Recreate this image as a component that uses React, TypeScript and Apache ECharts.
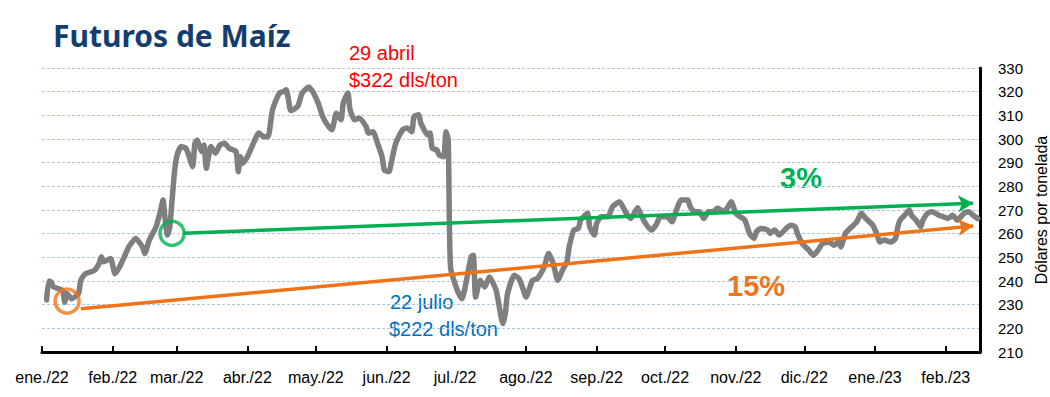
import React, { useEffect, useRef } from 'react';
import * as echarts from 'echarts';

const dates = [
  '2022-01-03','2022-01-04','2022-01-05','2022-01-06','2022-01-10','2022-01-11','2022-01-12','2022-01-14','2022-01-17','2022-01-18',
  '2022-01-20','2022-01-24','2022-01-26','2022-01-27','2022-01-28','2022-01-31','2022-02-02','2022-02-04','2022-02-07','2022-02-08',
  '2022-02-11','2022-02-14','2022-02-15','2022-02-17','2022-02-20','2022-02-22','2022-02-23','2022-02-24','2022-02-25','2022-02-26',
  '2022-02-27','2022-02-28','2022-03-01','2022-03-03','2022-03-05','2022-03-06','2022-03-08','2022-03-09','2022-03-10','2022-03-11',
  '2022-03-12','2022-03-13','2022-03-14','2022-03-16','2022-03-18','2022-03-20','2022-03-22','2022-03-24','2022-03-27','2022-03-28',
  '2022-03-29','2022-03-30','2022-04-01','2022-04-03','2022-04-06','2022-04-08','2022-04-10','2022-04-12','2022-04-15','2022-04-17',
  '2022-04-18','2022-04-19','2022-04-20','2022-04-23','2022-04-25','2022-04-28','2022-04-30','2022-05-02','2022-05-04','2022-05-06',
  '2022-05-08','2022-05-10','2022-05-12','2022-05-13','2022-05-15','2022-05-16','2022-05-18','2022-05-20','2022-05-23','2022-05-24',
  '2022-05-26','2022-05-28','2022-05-30','2022-05-31','2022-06-02','2022-06-03','2022-06-05','2022-06-08','2022-06-10','2022-06-12',
  '2022-06-13','2022-06-15','2022-06-16','2022-06-19','2022-06-20','2022-06-21','2022-06-23','2022-06-24','2022-06-26','2022-06-27',
  '2022-06-28','2022-06-29','2022-07-02','2022-07-04','2022-07-06','2022-07-08','2022-07-09','2022-07-10','2022-07-12','2022-07-14',
  '2022-07-16','2022-07-19','2022-07-22','2022-07-23','2022-07-24','2022-07-27','2022-07-29','2022-07-31','2022-08-01','2022-08-04',
  '2022-08-06','2022-08-09','2022-08-11','2022-08-13','2022-08-15','2022-08-17','2022-08-19','2022-08-20','2022-08-22','2022-08-24',
  '2022-08-25','2022-08-28','2022-08-29','2022-08-31','2022-09-01','2022-09-03','2022-09-06','2022-09-08','2022-09-11','2022-09-14',
  '2022-09-16','2022-09-19','2022-09-20','2022-09-22','2022-09-25','2022-09-27','2022-09-29','2022-10-02','2022-10-04','2022-10-06',
  '2022-10-08','2022-10-11','2022-10-12','2022-10-14','2022-10-16','2022-10-18','2022-10-20','2022-10-22','2022-10-24','2022-10-27',
  '2022-10-29','2022-10-30','2022-11-01','2022-11-03','2022-11-05','2022-11-07','2022-11-09','2022-11-10','2022-11-12','2022-11-15',
  '2022-11-16','2022-11-18','2022-11-20','2022-11-23','2022-11-25','2022-11-27','2022-11-28','2022-11-30','2022-12-03','2022-12-05',
  '2022-12-07','2022-12-09','2022-12-12','2022-12-14','2022-12-16','2022-12-17','2022-12-19','2022-12-21','2022-12-24','2022-12-26',
  '2022-12-28','2022-12-31','2023-01-02','2023-01-03','2023-01-05','2023-01-08','2023-01-10','2023-01-11','2023-01-12','2023-01-14',
  '2023-01-16','2023-01-17','2023-01-19','2023-01-21','2023-01-22','2023-01-24','2023-01-26','2023-01-29','2023-01-31','2023-02-02',
  '2023-02-04','2023-02-06','2023-02-09','2023-02-11','2023-02-13','2023-02-15',
];

const prices = [
  232, 240, 239.6, 237.5, 236, 231, 234.7, 232.5, 234.7, 240.3,
  243.1, 244.5, 247.4, 250.2, 248.1, 249.5, 243.1, 246, 252.3, 254.4,
  258, 254.4, 251.6, 257.3, 262.9, 270, 274.2, 265.7, 259.4, 262.9,
  274.2, 285.5, 292.5, 296.8, 296.1, 294, 288.3, 298.2, 299.6, 296.8,
  294.7, 297.5, 287.6, 296.8, 294, 297.5, 298.2, 296.1, 294.7, 286.2,
  292.5, 289.8, 292.5, 296.8, 302.5, 301, 301, 312.3, 319.4, 320.1,
  320.8, 316.6, 312, 313.7, 319.4, 322, 319.4, 315.2, 309.5, 306,
  303.9, 310.9, 308.1, 315.2, 319.4, 312.3, 308.1, 308.8, 305.3, 302.5,
  303.1, 298.2, 292.5, 286.9, 286.2, 289.8, 298.2, 303.9, 304.6, 303.1,
  309.5, 310.2, 306.7, 301.7, 302.5, 296.1, 295.4, 293.3, 292.5, 303.1,
  299.6, 246, 236, 232.5, 240.3, 250.2, 250.9, 233.2, 240.3, 237.5,
  241.7, 236, 222, 226.2, 234.7, 242.4, 241, 236, 233.2, 240.3,
  241, 245.9, 251.6, 247.4, 240.3, 244.5, 248.1, 254.4, 261.5, 262.2,
  265.7, 268.6, 262.9, 259.4, 264.3, 267.1, 267.1, 271.4, 273.5, 268.6,
  266.4, 271, 269, 265, 261.5, 263.6, 267.1, 267.1, 265, 270,
  274.2, 274.2, 271.4, 269.3, 269.3, 266.4, 269.3, 269.3, 270.7, 269.3,
  272.1, 273.5, 268.6, 267.1, 265.7, 260.1, 258, 260.8, 262.2, 261.5,
  260.1, 261.5, 259.4, 262.2, 263.6, 262.9, 260.1, 256, 253, 250.9,
  253, 255.8, 256.5, 255.1, 256.5, 254.4, 260.1, 262.2, 265, 268.6,
  266.4, 263.6, 259.4, 256.5, 257.3, 256.5, 258, 262.9, 265.7, 267.8,
  270, 267.8, 265.7, 262.9, 265.7, 268.6, 269.3, 267.8, 267.1, 266.4,
  267.8, 265.7, 268.6, 269.3, 267.8, 266.4,
];

const monthLabels = ['ene.', 'feb.', 'mar.', 'abr.', 'may.', 'jun.', 'jul.', 'ago.', 'sep.', 'oct.', 'nov.', 'dic.'];
const axisStart = '2022-01-01';
const axisEnd = '2023-02-16';
const yMin = 210;
const yMax = 330;
const yStep = 10;

const greenTrendDates = ['2022-03-04', '2023-02-13'];
const greenTrendValues = [260.2, 272.8];
const orangeTrendDates = ['2022-01-18', '2023-02-13'];
const orangeTrendValues = [228.3, 263.2];
const circleDates = ['2022-02-27', '2022-01-12'];
const circleValues = [260.1, 231.5];

const GRAY = '#7f7f7f';
const GREEN = '#00b050';
const ORANGE = '#f07318';
const FONT = '"Liberation Sans", Arial, sans-serif';

function ts(s: string): number {
  const [y, m, d] = s.split('-').map(Number);
  return new Date(y, m - 1, d).getTime();
}

export default function App() {
  const ref = useRef<HTMLDivElement>(null);
  useEffect(() => {
    document.body.style.margin = '0';
    const chart = echarts.init(ref.current!, null, { renderer: 'svg' });
    const trend = (ds: string[], vs: number[], color: string) => ({
      type: 'line',
      data: [],
      silent: true,
      markLine: {
        silent: true,
        symbol: ['none', 'arrow'],
        symbolSize: [13, 15],
        label: { show: false },
        lineStyle: { color, width: 3.5, type: 'solid' },
        emphasis: { disabled: true },
        data: [[{ coord: [ts(ds[0]), vs[0]] }, { coord: [ts(ds[1]), vs[1]] }]],
      },
    });
    const option: any = {
      animation: false,
      backgroundColor: '#ffffff',
      grid: { left: 42, right: 70, top: 68, bottom: 45, containLabel: false, outerBoundsMode: 'none' },
      xAxis: {
        type: 'time',
        min: ts(axisStart),
        max: ts(axisEnd),
        minInterval: 28 * 86400000,
        maxInterval: 31 * 86400000,
        axisLine: { show: true, lineStyle: { color: '#000', width: 3 } },
        axisTick: { show: true, inside: true, length: 6, lineStyle: { color: '#000', width: 2 } },
        splitLine: { show: false },
        axisLabel: {
          color: '#000',
          fontSize: 16,
          fontFamily: FONT,
          margin: 17,
          showMinLabel: true,
          hideOverlap: false,
          formatter: (val: number) => {
            const d = new Date(val);
            return monthLabels[d.getMonth()] + '/' + String(d.getFullYear()).slice(2);
          },
        },
      },
      yAxis: {
        type: 'value',
        position: 'right',
        min: yMin,
        max: yMax,
        interval: yStep,
        axisLine: { show: true, lineStyle: { color: '#000', width: 3 } },
        axisTick: { show: false },
        axisLabel: { color: '#000', fontSize: 15, fontFamily: FONT, margin: 18 },
        splitLine: { show: true, lineStyle: { color: '#a9c5e8', width: 1, type: [3, 2] } },
        name: 'Dólares por tonelada',
        nameLocation: 'middle',
        nameRotate: 90,
        nameGap: 51,
        nameTextStyle: { color: '#000', fontSize: 16, fontFamily: FONT },
      },
      series: [
        trend(orangeTrendDates, orangeTrendValues, ORANGE),
        trend(greenTrendDates, greenTrendValues, GREEN),
        {
          type: 'line',
          name: 'Maíz',
          data: dates.map((d, i) => [ts(d), prices[i]]),
          showSymbol: false,
          smooth: 0.2,
          lineStyle: { color: GRAY, width: 5.5, cap: 'round', join: 'round' },
          z: 3,
        },
        {
          type: 'scatter',
          data: [
            { value: [ts(circleDates[0]), circleValues[0]], itemStyle: { borderColor: GREEN } },
            { value: [ts(circleDates[1]), circleValues[1]], itemStyle: { borderColor: ORANGE } },
          ],
          symbol: 'circle',
          symbolSize: 24,
          itemStyle: { color: 'rgba(0,0,0,0)', borderWidth: 3.5 },
          z: 5,
        },
      ],
      graphic: [
        { type: 'text', left: 53, top: 20, style: { text: 'Futuros de Maíz', fill: '#123d6f', font: 'bold 30px "Noto Sans", sans-serif' } },
        { type: 'text', x: 349, y: 53, style: { text: '29 abril', fill: '#ff0000', font: '20px ' + FONT, verticalAlign: 'middle' } },
        { type: 'text', x: 349, y: 80, style: { text: '$322 dls/ton', fill: '#ff0000', font: '20px ' + FONT, verticalAlign: 'middle' } },
        { type: 'text', x: 390, y: 302, style: { text: '22 julio', fill: '#0070c0', font: '20px ' + FONT, verticalAlign: 'middle' } },
        { type: 'text', x: 389, y: 329, style: { text: '$222 dls/ton', fill: '#0070c0', font: '20px ' + FONT, verticalAlign: 'middle' } },
        { type: 'text', x: 780, y: 178, style: { text: '3%', fill: GREEN, font: 'bold 29px ' + FONT, verticalAlign: 'middle' } },
        { type: 'text', x: 727, y: 286, style: { text: '15%', fill: ORANGE, font: 'bold 29px ' + FONT, verticalAlign: 'middle' } },
      ],
    };
    chart.setOption(option);
    return () => chart.dispose();
  }, []);
  return <div ref={ref} style={{ width: 1050, height: 397 }} />;
}
